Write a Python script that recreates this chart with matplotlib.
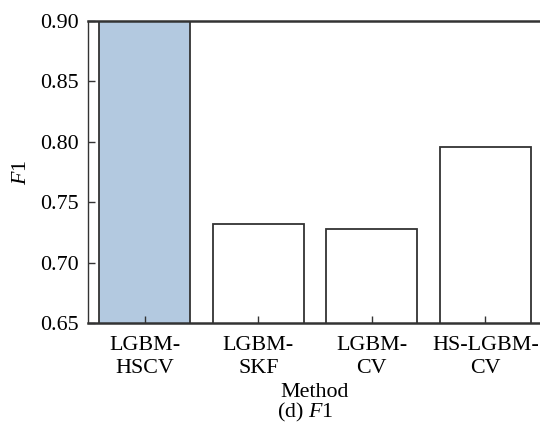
import matplotlib
matplotlib.use("Agg")
import matplotlib.pyplot as plt

categories = ["LGBM-\nHSCV", "LGBM-\nSKF", "LGBM-\nCV", "HS-LGBM-\nCV"]
f1_values = [0.90, 0.7317, 0.7276, 0.796]
yticks = [0.65, 0.70, 0.75, 0.80, 0.85, 0.90]
colors = ["#b3c9e0", "white", "white", "white"]

plt.rcParams["font.family"] = ["Liberation Serif", "DejaVu Serif"]
plt.rcParams["mathtext.fontset"] = "custom"
plt.rcParams["mathtext.rm"] = "Liberation Serif"
plt.rcParams["mathtext.it"] = "Liberation Serif:italic"
plt.rcParams["font.size"] = 15.8

fig = plt.figure(figsize=(5.4, 4.28), dpi=100)
ax = fig.add_axes([88/540, 105/428, 454/540, 302/428])

x = list(range(len(categories)))
ax.bar(x, f1_values, width=0.8, color=colors, edgecolor="#333333", linewidth=1.3)
ax.set_xlim(-0.5, 3.5)
ax.set_ylim(0.65, 0.90)
ax.set_yticks(yticks)
ax.set_yticklabels([f"{v:.2f}" for v in yticks])
ax.set_xticks(x)
ax.set_xticklabels(categories, linespacing=1.35)
ax.tick_params(axis="y", direction="in", length=5, width=1, color="#333333", pad=7)
ax.tick_params(axis="x", direction="in", length=5, width=1, color="#333333", pad=9)
for s in ax.spines.values():
    s.set_color("#333333")
ax.spines["bottom"].set_linewidth(1.8)
ax.spines["top"].set_linewidth(1.8)
ax.spines["left"].set_linewidth(1.0)
ax.set_ylabel("$F$1", labelpad=6)
ax.set_xlabel("Method", labelpad=3)
fig.text(305/540, 1 - 412/428, "(d) $F$1", ha="center", va="center")

fig.savefig("out.png", dpi=100)
